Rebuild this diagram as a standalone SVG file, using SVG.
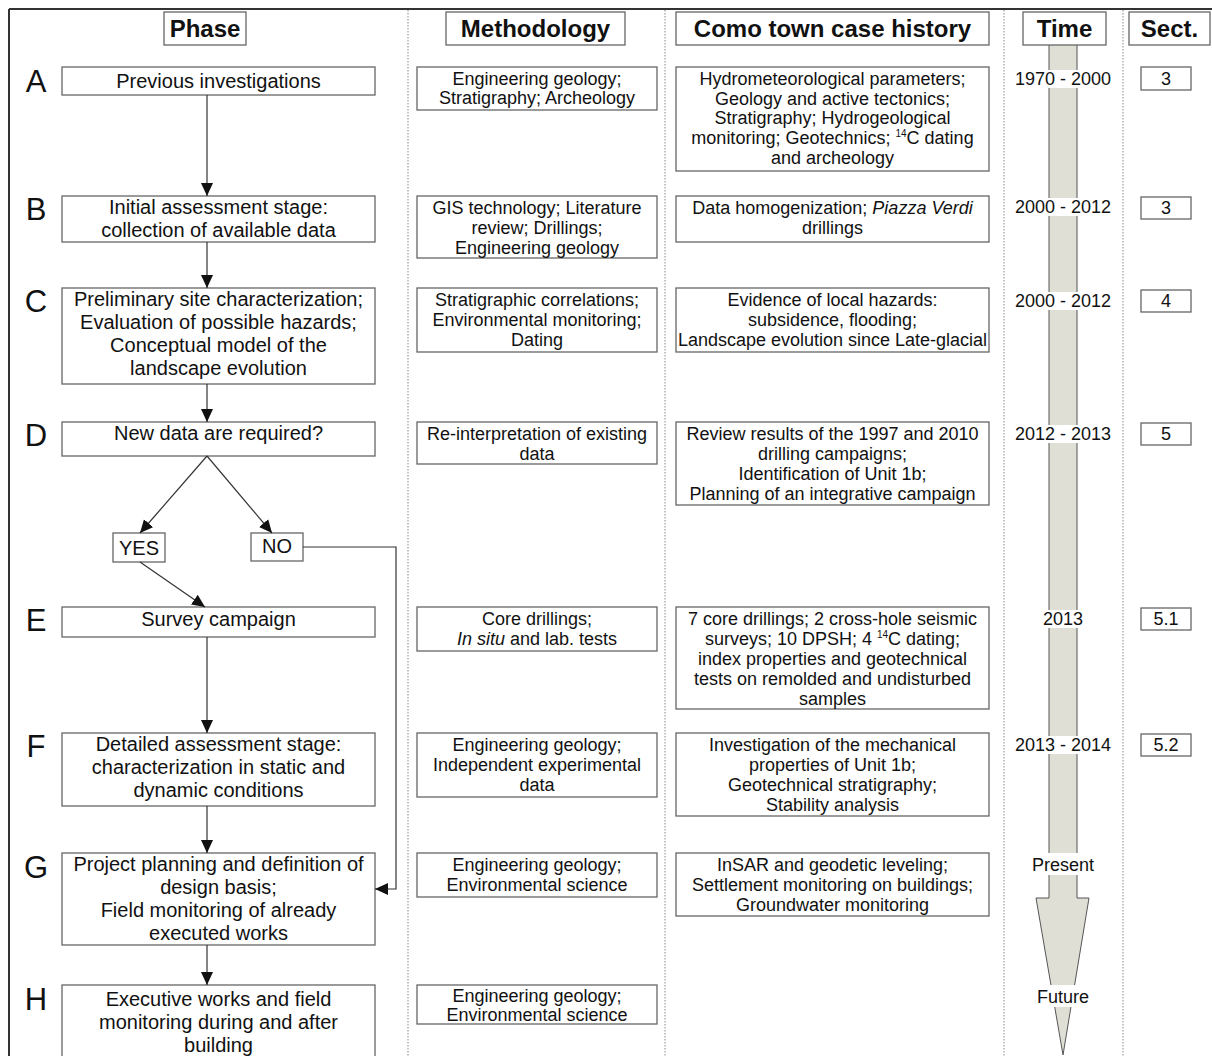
<svg xmlns="http://www.w3.org/2000/svg" width="1212" height="1056" viewBox="0 0 1212 1056">
<style>
text{font-family:"Liberation Sans",Arial,sans-serif;fill:#111}
.hd{font-size:24px;font-weight:bold;text-anchor:middle}
.hb{fill:#fff;stroke:#666;stroke-width:1.3}
.bx{fill:#fff;stroke:#666;stroke-width:1.3}
.ph{font-size:20px;text-anchor:middle}
.sm{font-size:18px;text-anchor:middle}
.sup{font-size:10px}
.lt{font-size:31px;text-anchor:middle}
.sep{stroke:#888;stroke-width:1;stroke-dasharray:1.5 1.5;fill:none}
.cn{stroke:#333;stroke-width:1.2;fill:none}
.wb{fill:#fff}
</style>
<defs>
<marker id="ah" markerUnits="userSpaceOnUse" markerWidth="14" markerHeight="14" viewBox="0 0 14 14" refX="13" refY="7" orient="auto">
<path d="M0,1 L13,7 L0,13 Z" fill="#111"/>
</marker>
</defs>
<rect width="1212" height="1056" fill="#fff"/>
<g id="frame">
<line x1="9" y1="9" x2="1212" y2="9" stroke="#333" stroke-width="2"/>
<line x1="9" y1="9" x2="9" y2="1056" stroke="#333" stroke-width="2"/>
<line class="sep" x1="408" y1="10" x2="408" y2="1056"/>
<line class="sep" x1="665" y1="10" x2="665" y2="1056"/>
<line class="sep" x1="1004" y1="10" x2="1004" y2="1056"/>
<line class="sep" x1="1123" y1="10" x2="1123" y2="1056"/>
</g>
<g id="timeline">
<polygon points="1049,40 1077,40 1077,898 1089,898 1063,1055 1036,898 1049,898" fill="#dfdfd5" stroke="#555" stroke-width="1"/>
<rect class="wb" x="1040" y="70" width="46" height="18"/>
<rect class="wb" x="1040" y="198" width="46" height="18"/>
<rect class="wb" x="1040" y="292" width="46" height="18"/>
<rect class="wb" x="1040" y="425" width="46" height="18"/>
<rect class="wb" x="1040" y="610" width="46" height="18"/>
<rect class="wb" x="1040" y="736" width="46" height="18"/>
<rect class="wb" x="1040" y="853" width="46" height="22"/>
<rect class="wb" x="1030" y="985" width="66" height="22"/>
<text class="sm" x="1063" y="85">1970 - 2000</text>
<text class="sm" x="1063" y="213">2000 - 2012</text>
<text class="sm" x="1063" y="307">2000 - 2012</text>
<text class="sm" x="1063" y="440">2012 - 2013</text>
<text class="sm" x="1063" y="625">2013</text>
<text class="sm" x="1063" y="751">2013 - 2014</text>
<text class="sm" x="1063" y="871">Present</text>
<text class="sm" x="1063" y="1003">Future</text>
</g>
<g id="headers">
<rect class="hb" x="164" y="12" width="82" height="33"/>
<text class="hd" x="205" y="37">Phase</text>
<rect class="hb" x="446" y="12" width="179" height="33"/>
<text class="hd" x="535.5" y="37">Methodology</text>
<rect class="hb" x="676" y="12" width="313" height="33"/>
<text class="hd" x="832.5" y="37">Como town case history</text>
<rect class="hb" x="1023" y="12" width="83" height="33"/>
<text class="hd" x="1064.5" y="37">Time</text>
<rect class="hb" x="1129" y="12" width="81" height="33"/>
<text class="hd" x="1169.5" y="37">Sect.</text>
</g>
<g id="letters">
<text class="lt" x="36" y="92">A</text>
<text class="lt" x="36" y="220">B</text>
<text class="lt" x="36" y="312">C</text>
<text class="lt" x="36" y="446">D</text>
<text class="lt" x="36" y="631">E</text>
<text class="lt" x="36" y="757">F</text>
<text class="lt" x="36" y="878">G</text>
<text class="lt" x="36" y="1010">H</text>
</g>
<g id="phaseA"><rect class="bx" x="62" y="67" width="313" height="28"/><text class="ph" x="218.5" y="88">Previous investigations</text></g>
<g id="phaseB"><rect class="bx" x="62" y="196" width="313" height="46"/><text class="ph" x="218.5" y="214">Initial assessment stage:</text><text class="ph" x="218.5" y="237">collection of available data</text></g>
<g id="phaseC"><rect class="bx" x="62" y="288" width="313" height="96"/><text class="ph" x="218.5" y="306">Preliminary site characterization;</text><text class="ph" x="218.5" y="329">Evaluation of possible hazards;</text><text class="ph" x="218.5" y="352">Conceptual model of the</text><text class="ph" x="218.5" y="375">landscape evolution</text></g>
<g id="phaseD"><rect class="bx" x="62" y="422" width="313" height="34"/><text class="ph" x="218.5" y="440">New data are required?</text></g>
<g id="yes"><rect class="bx" x="113" y="533" width="52" height="29"/><text class="ph" x="139" y="555">YES</text></g>
<g id="no"><rect class="bx" x="251" y="533" width="52" height="28"/><text class="ph" x="277" y="553">NO</text></g>
<g id="phaseE"><rect class="bx" x="62" y="607" width="313" height="30"/><text class="ph" x="218.5" y="626">Survey campaign</text></g>
<g id="phaseF"><rect class="bx" x="62" y="733" width="313" height="73"/><text class="ph" x="218.5" y="751">Detailed assessment stage:</text><text class="ph" x="218.5" y="774">characterization in static and</text><text class="ph" x="218.5" y="797">dynamic conditions</text></g>
<g id="phaseG"><rect class="bx" x="62" y="853" width="313" height="92"/><text class="ph" x="218.5" y="871">Project planning and definition of</text><text class="ph" x="218.5" y="894">design basis;</text><text class="ph" x="218.5" y="917">Field monitoring of already</text><text class="ph" x="218.5" y="940">executed works</text></g>
<g id="phaseH"><rect class="bx" x="62" y="985" width="313" height="80"/><text class="ph" x="218.5" y="1006">Executive works and field</text><text class="ph" x="218.5" y="1029">monitoring during and after</text><text class="ph" x="218.5" y="1052">building</text></g>
<g id="methA"><rect class="bx" x="417" y="67" width="240" height="43"/><text class="sm" x="537" y="85">Engineering geology;</text><text class="sm" x="537" y="104">Stratigraphy; Archeology</text></g>
<g id="methB"><rect class="bx" x="417" y="196" width="240" height="62"/><text class="sm" x="537" y="214">GIS technology; Literature</text><text class="sm" x="537" y="234">review; Drillings;</text><text class="sm" x="537" y="254">Engineering geology</text></g>
<g id="methC"><rect class="bx" x="417" y="288" width="240" height="64"/><text class="sm" x="537" y="306">Stratigraphic correlations;</text><text class="sm" x="537" y="326">Environmental monitoring;</text><text class="sm" x="537" y="346">Dating</text></g>
<g id="methD"><rect class="bx" x="417" y="422" width="240" height="42"/><text class="sm" x="537" y="440">Re-interpretation of existing</text><text class="sm" x="537" y="460">data</text></g>
<g id="methE"><rect class="bx" x="417" y="607" width="240" height="44"/><text class="sm" x="537" y="625">Core drillings;</text><text class="sm" x="537" y="645"><tspan font-style="italic">In situ</tspan> and lab. tests</text></g>
<g id="methF"><rect class="bx" x="417" y="733" width="240" height="64"/><text class="sm" x="537" y="751">Engineering geology;</text><text class="sm" x="537" y="771">Independent experimental</text><text class="sm" x="537" y="791">data</text></g>
<g id="methG"><rect class="bx" x="417" y="853" width="240" height="44"/><text class="sm" x="537" y="871">Engineering geology;</text><text class="sm" x="537" y="891">Environmental science</text></g>
<g id="methH"><rect class="bx" x="417" y="985" width="240" height="39"/><text class="sm" x="537" y="1002">Engineering geology;</text><text class="sm" x="537" y="1021">Environmental science</text></g>
<g id="caseA"><rect class="bx" x="676" y="67" width="313" height="104"/><text class="sm" x="832.5" y="85">Hydrometeorological parameters;</text><text class="sm" x="832.5" y="105">Geology and active tectonics;</text><text class="sm" x="832.5" y="124">Stratigraphy; Hydrogeological</text><text class="sm" x="832.5" y="144">monitoring; Geotechnics; <tspan class="sup" dy="-7">14</tspan><tspan dy="7">C dating</tspan></text><text class="sm" x="832.5" y="164">and archeology</text></g>
<g id="caseB"><rect class="bx" x="676" y="196" width="313" height="46"/><text class="sm" x="832.5" y="214">Data homogenization; <tspan font-style="italic">Piazza Verdi</tspan></text><text class="sm" x="832.5" y="234">drillings</text></g>
<g id="caseC"><rect class="bx" x="676" y="288" width="313" height="64"/><text class="sm" x="832.5" y="306">Evidence of local hazards:</text><text class="sm" x="832.5" y="326">subsidence, flooding;</text><text class="sm" x="832.5" y="346">Landscape evolution since Late-glacial</text></g>
<g id="caseD"><rect class="bx" x="676" y="422" width="313" height="83"/><text class="sm" x="832.5" y="440">Review results of the 1997 and 2010</text><text class="sm" x="832.5" y="460">drilling campaigns;</text><text class="sm" x="832.5" y="480">Identification of Unit 1b;</text><text class="sm" x="832.5" y="500">Planning of an integrative campaign</text></g>
<g id="caseE"><rect class="bx" x="676" y="607" width="313" height="102"/><text class="sm" x="832.5" y="625">7 core drillings; 2 cross-hole seismic</text><text class="sm" x="832.5" y="645">surveys; 10 DPSH; 4 <tspan class="sup" dy="-7">14</tspan><tspan dy="7">C dating;</tspan></text><text class="sm" x="832.5" y="665">index properties and geotechnical</text><text class="sm" x="832.5" y="685">tests on remolded and undisturbed</text><text class="sm" x="832.5" y="705">samples</text></g>
<g id="caseF"><rect class="bx" x="676" y="733" width="313" height="83"/><text class="sm" x="832.5" y="751">Investigation of the mechanical</text><text class="sm" x="832.5" y="771">properties of Unit 1b;</text><text class="sm" x="832.5" y="791">Geotechnical stratigraphy;</text><text class="sm" x="832.5" y="811">Stability analysis</text></g>
<g id="caseG"><rect class="bx" x="676" y="853" width="313" height="63"/><text class="sm" x="832.5" y="871">InSAR and geodetic leveling;</text><text class="sm" x="832.5" y="891">Settlement monitoring on buildings;</text><text class="sm" x="832.5" y="911">Groundwater monitoring</text></g>
<g id="sectA"><rect class="bx" x="1141" y="67" width="50" height="23"/><text class="sm" x="1166" y="85">3</text></g>
<g id="sectB"><rect class="bx" x="1141" y="197" width="50" height="22"/><text class="sm" x="1166" y="214">3</text></g>
<g id="sectC"><rect class="bx" x="1141" y="290" width="50" height="22"/><text class="sm" x="1166" y="307">4</text></g>
<g id="sectD"><rect class="bx" x="1141" y="423" width="50" height="22"/><text class="sm" x="1166" y="440">5</text></g>
<g id="sectE"><rect class="bx" x="1141" y="608" width="50" height="22"/><text class="sm" x="1166" y="625">5.1</text></g>
<g id="sectF"><rect class="bx" x="1141" y="734" width="50" height="22"/><text class="sm" x="1166" y="751">5.2</text></g>
<g id="connectors">
<line class="cn" x1="207" y1="95" x2="207" y2="196" marker-end="url(#ah)"/>
<line class="cn" x1="207" y1="242" x2="207" y2="288" marker-end="url(#ah)"/>
<line class="cn" x1="207" y1="384" x2="207" y2="422" marker-end="url(#ah)"/>
<line class="cn" x1="207" y1="456" x2="140" y2="533" marker-end="url(#ah)"/>
<line class="cn" x1="207" y1="456" x2="272" y2="533" marker-end="url(#ah)"/>
<line class="cn" x1="140" y1="562" x2="205" y2="607" marker-end="url(#ah)"/>
<polyline class="cn" points="303,547 396,547 396,889 375,889" marker-end="url(#ah)"/>
<line class="cn" x1="207" y1="637" x2="207" y2="733" marker-end="url(#ah)"/>
<line class="cn" x1="207" y1="806" x2="207" y2="853" marker-end="url(#ah)"/>
<line class="cn" x1="207" y1="945" x2="207" y2="985" marker-end="url(#ah)"/>
</g>
</svg>
